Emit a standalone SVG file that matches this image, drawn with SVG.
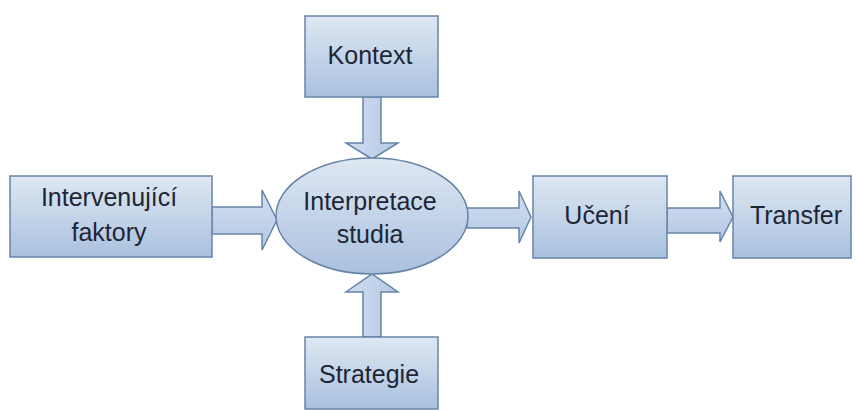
<svg xmlns="http://www.w3.org/2000/svg" width="856" height="410" viewBox="0 0 856 410">
<defs>
<linearGradient id="gBox" x1="0" y1="0" x2="0" y2="1">
<stop offset="0" stop-color="#dfe8f3"/>
<stop offset="1" stop-color="#a9c0de"/>
</linearGradient>
<linearGradient id="gH" x1="0" y1="0" x2="0" y2="1">
<stop offset="0" stop-color="#d3def0"/>
<stop offset="1" stop-color="#b3c8e4"/>
</linearGradient>
<linearGradient id="gV" x1="0" y1="0" x2="1" y2="0">
<stop offset="0" stop-color="#d3def0"/>
<stop offset="1" stop-color="#b3c8e4"/>
</linearGradient>
</defs>
<style>
.box{fill:url(#gBox);stroke:#6784a8;stroke-width:1.5}
.ah{fill:url(#gH);stroke:#6784a8;stroke-width:1.5;stroke-linejoin:miter}
.av{fill:url(#gV);stroke:#6784a8;stroke-width:1.5;stroke-linejoin:miter}
text{font-family:"Liberation Sans",Arial,sans-serif;font-size:25px;fill:#1e2636;text-anchor:middle}
</style>
<rect width="856" height="410" fill="#ffffff"/>
<g id="connectors">
<polygon class="av" points="363,97 381,97 381,143 398,143 372,159 346,143 363,143"/>
<polygon class="av" points="363,337 381,337 381,292 398,292 372,274 346,292 363,292"/>
<polygon class="ah" points="212,207 262,207 262,190 277,220 262,250 262,234 212,234"/>
<polygon class="ah" points="467,208 519,208 519,191 531,217 519,243 519,228 467,228"/>
<polygon class="ah" points="667,208 720,208 720,191 733,217 720,242 720,233 667,233"/>
</g>
<g id="kontext">
<rect class="box" x="305" y="16" width="133" height="81"/>
<text x="370" y="64">Kontext</text>
</g>
<g id="intervenujici">
<rect class="box" x="10" y="176" width="202" height="81"/>
<text x="109" y="206">Intervenující</text>
<text x="109" y="241">faktory</text>
</g>
<g id="interpretace">
<ellipse cx="372" cy="216" rx="96" ry="58" fill="url(#gBox)" stroke="#6784a8" stroke-width="1.5"/>
<text x="370" y="210">Interpretace</text>
<text x="370" y="243">studia</text>
</g>
<g id="uceni">
<rect class="box" x="533" y="176" width="134" height="82"/>
<text x="597" y="224">Učení</text>
</g>
<g id="transfer">
<rect class="box" x="733" y="176" width="118" height="82"/>
<text x="796" y="224">Transfer</text>
</g>
<g id="strategie">
<rect class="box" x="305" y="337" width="133" height="72"/>
<text x="369" y="383">Strategie</text>
</g>
</svg>
